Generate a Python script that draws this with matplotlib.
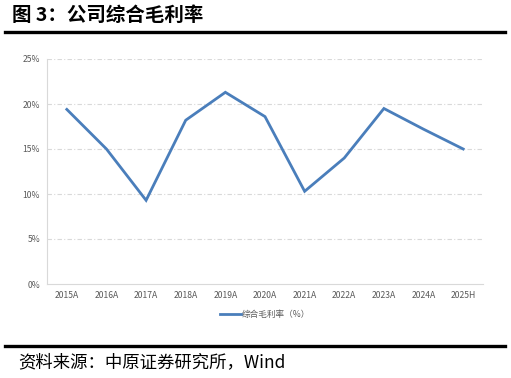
import matplotlib
matplotlib.use("Agg")
import matplotlib.pyplot as plt
from matplotlib.lines import Line2D

plt.rcParams['font.family'] = ['Noto Sans CJK SC', 'DejaVu Sans']

categories = ['2015A', '2016A', '2017A', '2018A', '2019A', '2020A',
              '2021A', '2022A', '2023A', '2024A', '2025H']
margin = [19.4, 15.0, 9.3, 18.2, 21.3, 18.6, 10.3, 14.0, 19.5, 17.2, 15.0]
yticks = [0, 5, 10, 15, 20, 25]

W, H = 511, 378
fig = plt.figure(figsize=(W / 100, H / 100), dpi=100)

# title bar
fig.text(12 / W, 1 - 15 / H, '图 3：公司综合毛利率', fontsize=14, fontweight='bold',
         va='center', ha='left', color='black')
fig.add_artist(Line2D([5 / W, 505 / W], [1 - 32 / H, 1 - 32 / H], color='black', lw=2.4))

ax = fig.add_axes([47 / W, 1 - 284 / H, (483 - 47) / W, (284 - 59) / H])
x = range(len(categories))
ax.plot(x, margin, color='#4a7ebb', lw=2.0, solid_joinstyle='miter', label='综合毛利率（%）')
ax.set_xlim(-0.5, len(categories) - 0.5)
ax.set_ylim(0, 25)
ax.set_yticks(yticks)
ax.set_yticklabels([f'{v}%' for v in yticks])
ax.set_xticks(list(x))
ax.set_xticklabels(categories)
ax.tick_params(length=0, labelsize=6.2, colors='#595959', pad=5)
for v in yticks[1:]:
    ax.axhline(v, color='#d9d9d9', lw=0.8, ls=(0, (4, 2, 1, 2)), zorder=0)
for s in ['top', 'right']:
    ax.spines[s].set_visible(False)
for s in ['left', 'bottom']:
    ax.spines[s].set_color('#d9d9d9')
    ax.spines[s].set_linewidth(0.8)

leg = ax.legend(loc='upper center', bbox_to_anchor=(0.5, -0.08), frameon=False,
                fontsize=6.2, handlelength=2.4, handletextpad=0.15)
for t in leg.get_texts():
    t.set_color('#595959')

# source bar
fig.add_artist(Line2D([5 / W, 505 / W], [1 - 346 / H, 1 - 346 / H], color='black', lw=2.4))
fig.text(18 / W, 1 - 362 / H, '资料来源：中原证券研究所，Wind', fontsize=12.5,
         va='center', ha='left', color='black')

fig.savefig('out.png', dpi=100)
